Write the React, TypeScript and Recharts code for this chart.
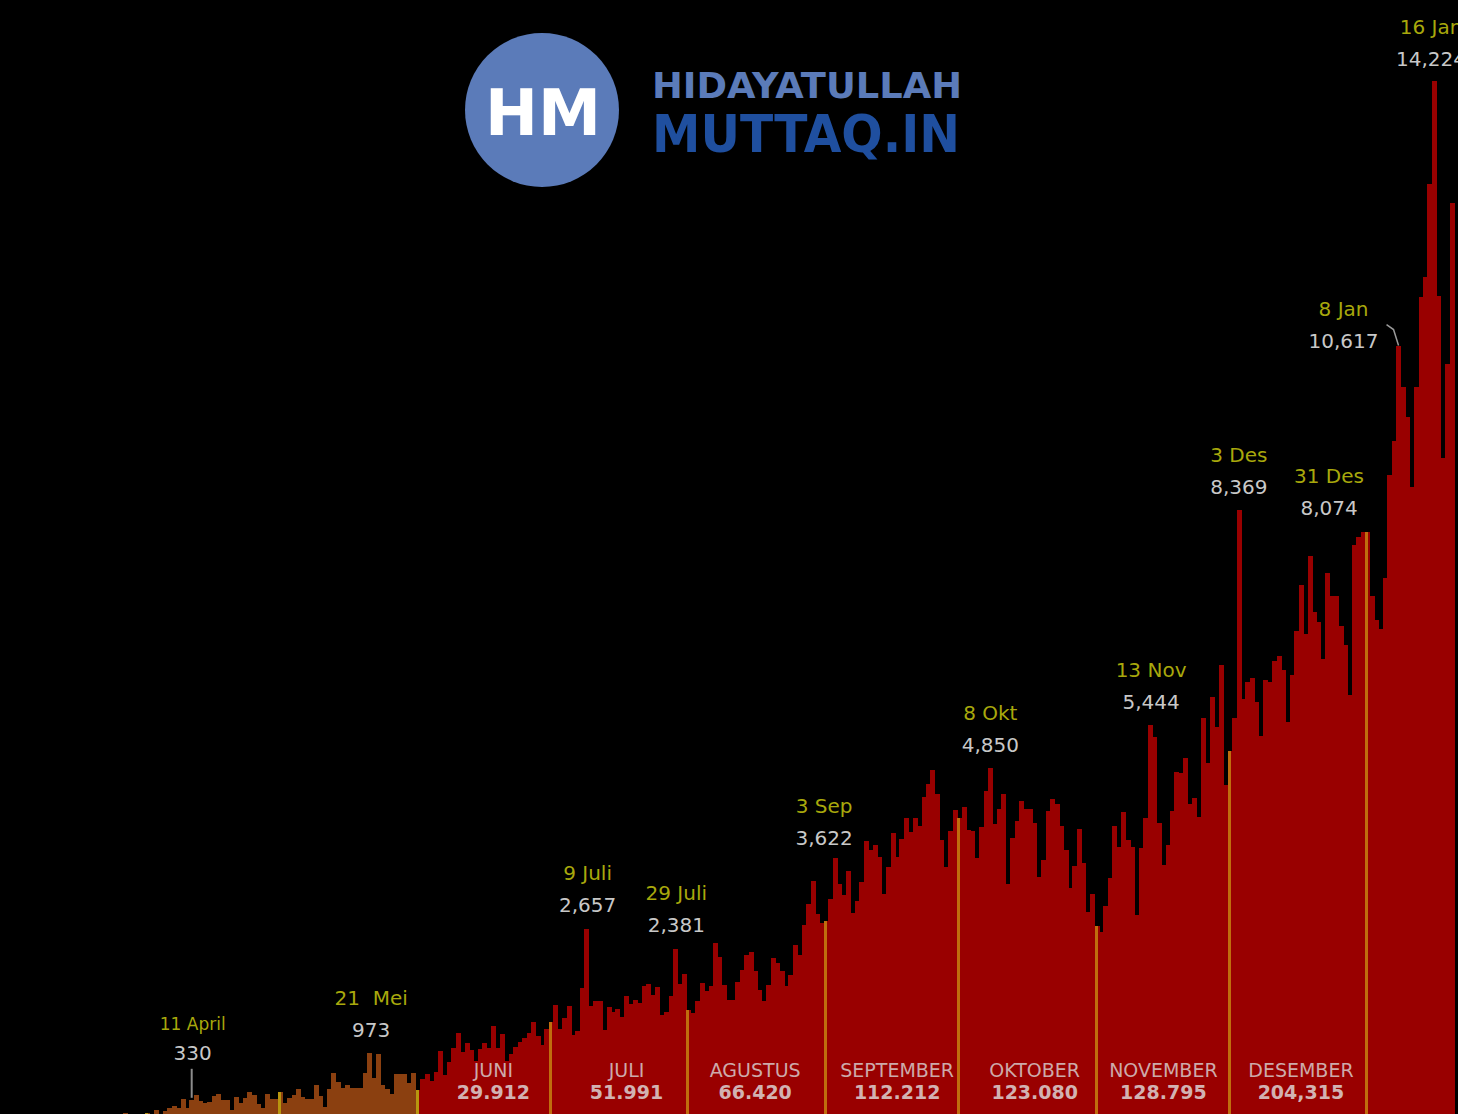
import { BarChart, Bar, XAxis, YAxis, ReferenceDot } from "recharts";

// daily new cases, 2 Mar 2020 .. 20 Jan 2021
const MAR = [2, 0, 0, 0, 2, 0, 2, 13, 8, 7, 0, 35, 27, 21, 17, 38, 55, 82, 60, 81, 64, 65, 107, 105, 103, 153, 109, 130, 129, 114];
const APR = [149, 113, 196, 106, 181, 218, 247, 218, 337, 219, 330, 399, 316, 282, 297, 380, 407, 325, 327, 185, 375, 283, 357, 436, 396, 275, 214, 415, 347, 347];
const MEI = [433, 292, 349, 395, 484, 367, 338, 336, 533, 387, 233, 484, 689, 568, 490, 529, 489, 496, 486, 693, 973, 634, 949, 526, 479, 415, 686, 687, 678, 557, 700];
const JUN = [467, 609, 684, 585, 703, 993, 672, 847, 1043, 1241, 979, 1111, 1014, 857, 1017, 1106, 1031, 1331, 1041, 1226, 862, 954, 1051, 1113, 1178, 1240, 1385, 1198, 1082, 1293];
const JUL = [1385, 1624, 1301, 1447, 1607, 1209, 1268, 1853, 2657, 1611, 1671, 1681, 1282, 1591, 1522, 1574, 1462, 1752, 1639, 1693, 1655, 1882, 1906, 1761, 1868, 1492, 1525, 1748, 2381, 1904, 2040];
const AGU = [1560, 1519, 1679, 1922, 1815, 1882, 2473, 2277, 1893, 1687, 1693, 1942, 2098, 2307, 2345, 2081, 1821, 1673, 1902, 2266, 2197, 2090, 1877, 2037, 2447, 2306, 2719, 3003, 3308, 2858, 2743];
const SEP = [2775, 3075, 3622, 3269, 3128, 3444, 2880, 3046, 3307, 3861, 3737, 3806, 3636, 3141, 3507, 3963, 3635, 3891, 4168, 3989, 4176, 4071, 4465, 4634, 4823, 4494, 3874, 3509, 4002, 4284];
const OKT = [4174, 4317, 4007, 3992, 3622, 4056, 4538, 4850, 4094, 4294, 4497, 3267, 3906, 4127, 4411, 4301, 4301, 4105, 3373, 3602, 4267, 4432, 4369, 4070, 3732, 3222, 3520, 4029, 3565, 2897, 3143];
const NOV = [2696, 2618, 2973, 3356, 4065, 3778, 4262, 3880, 3779, 2853, 3770, 4173, 5444, 5272, 4106, 3535, 3807, 4265, 4798, 4792, 4998, 4360, 4442, 4192, 5534, 4917, 5828, 5418, 6267, 4617];
const DES = [5092, 5533, 8369, 5803, 6027, 6089, 5754, 5292, 6058, 6033, 6310, 6388, 6189, 5489, 6120, 6725, 7354, 6689, 7751, 6982, 6848, 6347, 7514, 7199, 7203, 6796, 6528, 5854, 7903, 8002, 8074];
const JAN = [8072, 7203, 6877, 6753, 7445, 8854, 9321, 10617, 10046, 9640, 8692, 10047, 11278, 11557, 12818, 14224, 11287, 9086, 10365, 12568];

const MONTHS = ["Mar", "Apr", "Mei", "Jun", "Jul", "Agu", "Sep", "Okt", "Nov", "Des", "Jan"];
const FIRST_DAY = [2, 1, 1, 1, 1, 1, 1, 1, 1, 1, 1];
const DAILY = [MAR, APR, MEI, JUN, JUL, AGU, SEP, OKT, NOV, DES, JAN];

// month captions inside the bars
const MONTH_NAMES = ["JUNI", "JULI", "AGUSTUS", "SEPTEMBER", "OKTOBER", "NOVEMBER", "DESEMBER"];
const MONTH_TOTALS = ["29.912", "51.991", "66.420", "112.212", "123.080", "128.795", "204,315"];
const MONTH_AT = ["18 Jun", "18 Jul", "16 Agu", "17 Sep", "18 Okt", "16 Nov", "17 Des"];

// highlighted days
const PEAK_KEYS = ["11 Apr", "21 Mei", "9 Jul", "29 Jul", "3 Sep", "8 Okt", "13 Nov", "3 Des", "31 Des", "8 Jan", "16 Jan"];
const PEAK_DATES = ["11 April", "21  Mei", "9 Juli", "29 Juli", "3 Sep", "8 Okt", "13 Nov", "3 Des", "31 Des", "8 Jan", "16 Jan"];
const PEAK_VALUES = ["330", "973", "2,657", "2,381", "3,622", "4,850", "5,444", "8,369", "8,074", "10,617", "14,224"];

const RED = "#990000";
const BROWN = "#8b4010";
const SEP_RED = "#bf6d0e";
const SEP_BROWN = "#b8960f";
const FONT = "'DejaVu Sans', Verdana, sans-serif";

const data = DAILY.flatMap((arr, m) =>
  arr.map((v, i) => ({
    key: `${FIRST_DAY[m] + i} ${MONTHS[m]}`,
    v,
    early: m < 3,
    first: i === 0 && m > 0,
  }))
);

// label offsets per highlighted day (dx, value text offset from bar top)
const PEAK_LAYOUT: Record<string, { dx: number; dy: number; gap?: number; size?: number; leader?: string }> = {
  "11 Apr": { dx: 1, dy: -47, gap: 29, size: 17, leader: "down" },
  "21 Mei": { dx: 2, dy: -23 },
  "9 Jul": { dx: 1, dy: -24 },
  "29 Jul": { dx: 1, dy: -24 },
  "3 Sep": { dx: -11, dy: -20 },
  "8 Okt": { dx: 0, dy: -23 },
  "13 Nov": { dx: 1, dy: -23 },
  "3 Des": { dx: 0, dy: -23 },
  "31 Des": { dx: -34, dy: -24 },
  "8 Jan": { dx: -55, dy: -5, leader: "hook" },
  "16 Jan": { dx: -3, dy: -22 },
};

function DayBar(props: any) {
  const { x, y, width, height, payload } = props;
  if (!height || height <= 0) return null;
  const base = payload.early ? BROWN : RED;
  return (
    <g shapeRendering="crispEdges">
      <rect x={x} y={y} width={width + 1} height={height + 1} fill={base} />
      {payload.first && (
        <rect x={x} y={y} width={3} height={height + 1} fill={payload.early || payload.key === "1 Jun" ? SEP_BROWN : SEP_RED} />
      )}
    </g>
  );
}

function PeakLabel(props: any) {
  const { cx, cy, idx } = props;
  const key = PEAK_KEYS[idx];
  const lay = PEAK_LAYOUT[key];
  const vy = cy + lay.dy;
  const gap = lay.gap ?? 32;
  const tx = cx + lay.dx;
  return (
    <g>
      {lay.leader === "down" && (
        <line x1={cx} x2={cx} y1={cy - 31} y2={cy - 2} stroke="#8c8c8c" strokeWidth={2} />
      )}
      {lay.leader === "hook" && (
        <path d={`M ${cx - 12} ${cy - 21} L ${cx - 5} ${cy - 16} L ${cx} ${cy}`} stroke="#9a9a9a" strokeWidth={1.5} fill="none" />
      )}
      <text
        x={tx}
        y={vy - gap}
        textAnchor="middle"
        dominantBaseline="central"
        fontFamily={FONT}
        fontSize={lay.size ?? 20}
        fill="#a8a80c"
        style={{ whiteSpace: "pre" }}
      >
        {PEAK_DATES[idx]}
      </text>
      <text
        x={tx}
        y={vy}
        textAnchor="middle"
        dominantBaseline="central"
        fontFamily={FONT}
        fontSize={20}
        fill="#c8c8c8"
      >
        {PEAK_VALUES[idx]}
      </text>
    </g>
  );
}

function MonthLabel(props: any) {
  const { cx, cy, idx } = props;
  return (
    <g>
      <text x={cx} y={cy - 54} textAnchor="middle" dominantBaseline="central" fontFamily={FONT} fontSize={19} fill="#cdaaaa">
        {MONTH_NAMES[idx]}
      </text>
      <text x={cx} y={cy - 32} textAnchor="middle" dominantBaseline="central" fontFamily={FONT} fontSize={19} fontWeight="bold" fill="#d2b2b2">
        {MONTH_TOTALS[idx]}
      </text>
    </g>
  );
}

function Logo() {
  return (
    <svg width={1458} height={220} style={{ position: "absolute", left: 0, top: 0, pointerEvents: "none" }}>
      <circle cx={542} cy={110} r={77} fill="#5b7bb9" />
      <text x={543} y={135} textAnchor="middle" fontFamily={FONT} fontWeight="bold" fontSize={64} fill="#ffffff" textLength={116} lengthAdjust="spacingAndGlyphs">
        HM
      </text>
      <text x={652} y={98} fontFamily={FONT} fontWeight="bold" fontSize={36} fill="#5b7bb9" textLength={310} lengthAdjust="spacingAndGlyphs">
        HIDAYATULLAH
      </text>
      <text x={652} y={152} fontFamily={FONT} fontWeight="bold" fontSize={52} fill="#1f4f9f" textLength={308} lengthAdjust="spacingAndGlyphs">
        MUTTAQ.IN
      </text>
    </svg>
  );
}

export default function App() {
  const valueOf = (k: string) => data.find((d) => d.key === k)?.v ?? 0;
  return (
    <div style={{ position: "fixed", left: 0, top: 0, width: 1458, height: 1114, overflow: "hidden", background: "#000" }}>
      <div style={{ position: "absolute", left: 0, top: 0 }}>
        <BarChart
          width={1458}
          height={1124}
          data={data}
          margin={{ top: 0, right: 4, bottom: 0, left: 12 }}
          barCategoryGap={0}
          barGap={0}
        >
          <XAxis dataKey="key" type="category" hide />
          <YAxis type="number" domain={[0, 15330]} hide allowDataOverflow />
          <Bar dataKey="v" isAnimationActive={false} shape={DayBar} />
          {MONTH_AT.map((k, i) => (
            <ReferenceDot key={k} x={k} y={0} r={0} shape={(p: any) => <MonthLabel {...p} idx={i} />} />
          ))}
          {PEAK_KEYS.map((k, i) => (
            <ReferenceDot key={k} x={k} y={valueOf(k)} r={0} shape={(p: any) => <PeakLabel {...p} idx={i} />} />
          ))}
        </BarChart>
      </div>
      <Logo />
    </div>
  );
}
